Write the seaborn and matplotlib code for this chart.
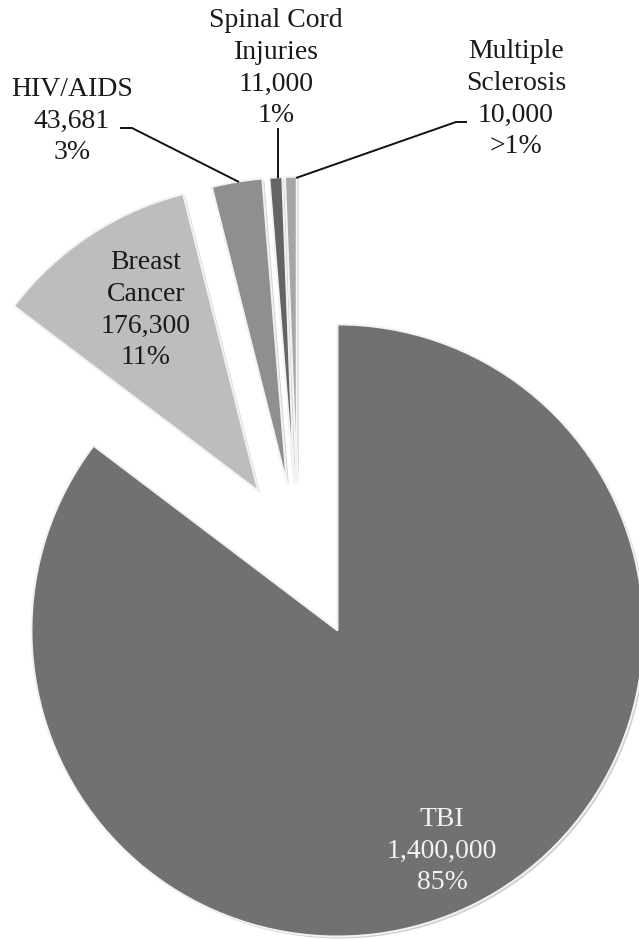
import matplotlib
matplotlib.use("Agg")
import matplotlib.pyplot as plt
import matplotlib.patheffects as pe
import seaborn as sns

# Prevalence figures by condition
categories = ["TBI", "Breast\nCancer", "HIV/AIDS", "Spinal Cord\nInjuries", "Multiple\nSclerosis"]
counts = [1400000, 176300, 43681, 11000, 10000]
pct_labels = ["85%", "11%", "3%", "1%", ">1%"]

colors = ["#717171", "#bdbdbd", "#8f8f8f", "#646464", "#a6a6a6"]
explode = [0.29, 0.236, 0.223, 0.223, 0.223]

sns.set_theme(style="white")
plt.rcParams["font.family"] = ["Liberation Serif", "DejaVu Serif"]

W, H = 639, 939
fig = plt.figure(figsize=(W / 100, H / 100), dpi=100)
ax = fig.add_axes([0, 0, 1, 1])

# pixel geometry: pie centre and radius
CX, CY, R = 298, 551, 306


def px(x, y):
    return (x - CX) / R, (CY - y) / R


wedges, _ = ax.pie(
    counts,
    colors=colors,
    explode=explode,
    startangle=90,
    counterclock=False,
    radius=1.0,
    wedgeprops=dict(edgecolor="#f2f2f2", linewidth=1.4),
)
for w in wedges:
    w.set_path_effects([
        pe.SimplePatchShadow(offset=(1.5, -1.5), shadow_rgbFace="#808080", alpha=0.35),
        pe.Normal(),
    ])

ax.set_xlim(-CX / R, (W - CX) / R)
ax.set_ylim(-(H - CY) / R, CY / R)
ax.set_aspect("equal", adjustable="box")
ax.axis("off")

fs = 20


def label(i, x, y, color="#1a1a1a"):
    text = f"{categories[i]}\n{counts[i]:,}\n{pct_labels[i]}"
    ax.text(*px(x, y), text, ha="center", va="center", fontsize=fs,
            color=color, linespacing=1.36)


label(0, 442, 851, color="#f2f2f2")
label(1, 146, 310)
label(2, 72, 121)
label(3, 276, 68)
label(4, 516, 99)

lk = dict(color="#111111", lw=1.4, solid_capstyle="butt")
# HIV/AIDS leader
xs, ys = zip(*[px(120, 128), px(132, 128), px(239, 182)])
ax.plot(xs, ys, **lk)
# Spinal Cord Injuries leader
xs, ys = zip(*[px(278, 128), px(278, 178)])
ax.plot(xs, ys, **lk)
# Multiple Sclerosis leader
xs, ys = zip(*[px(467, 122), px(456, 122), px(296, 178)])
ax.plot(xs, ys, **lk)

fig.savefig("out.png", dpi=100, facecolor="white")
